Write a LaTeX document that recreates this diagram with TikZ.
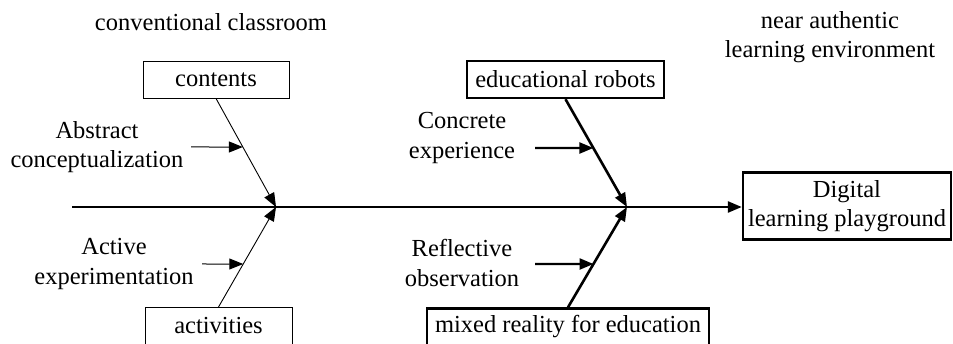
\documentclass[tikz,border=0pt]{standalone}
\usepackage{fontspec}
\setmainfont{Liberation Serif}
\usetikzlibrary{arrows.meta,calc}
\begin{document}
\begin{tikzpicture}[x=1pt,y=-1pt,
  txt/.style={inner sep=0pt,align=center,font=\fontsize{24.5}{29.4}\selectfont},
  thinbox/.style={txt,draw,line width=0.9pt,minimum height=37pt},
  thickbox/.style={txt,draw,line width=2.4pt,minimum height=37pt},
  tip/.style={-{Triangle[length=14pt,width=11pt]}},
  thinline/.style={tip,line width=0.9pt},
  thickline/.style={tip,line width=2.6pt},
  tick/.style={tip,line width=1pt},
  boldtick/.style={tip,line width=2.4pt}]
\useasboundingbox (0,0) rectangle (953,344);
\clip (0,0) rectangle (953,344);

% headings
\node[txt] (hleft) at (211,22) {conventional classroom};
\node[txt] (hright) at (830,37) {near authentic\\learning environment};

% junctions on the spine
\coordinate (j1) at (276,207);
\coordinate (j2) at (627,207);
\coordinate (tail) at (72,207);

% boxes
\node[thinbox,minimum width=146pt] (contents) at (216,79.5) {contents};
\node[thinbox,minimum width=147pt] (activities) at (218.5,326) {activities};
\node[thickbox,minimum width=197pt] (robots) at (565.5,79.5) {educational robots};
\node[thickbox,minimum width=282pt] (mixed) at (568,327) {mixed reality for education};
\node[thickbox,minimum width=208pt,minimum height=67pt] (goal) at (847,206) {Digital\\learning playground};

% spine
\draw[line width=2.6pt] (tail) -- (j1) -- (j2);
\draw[thickline] (j2) -- (j2 -| goal.west);

% bones
\draw[thinline] (contents.south) -- (j1);
\draw[thinline] (activities.north) -- (j1);
\draw[thickline] (robots.south) -- (j2);
\draw[thickline] (mixed.north) -- (j2);

% learning stages
\node[txt] (abstract) at (97,147) {Abstract\\conceptualization};
\node[txt] (active) at (114,264) {Active\\experimentation};
\node[txt] (concrete) at (462,138) {Concrete\\experience};
\node[txt] (reflective) at (462,263) {Reflective\\observation};

% stage arrows, ending on the bones
\coordinate (a1) at (191,147);
\coordinate (a2) at (202,264);
\coordinate (a3) at (535,148);
\coordinate (a4) at (535,264);
\draw[tick] (a1) -- (intersection of a1--{$(a1)+(100,0)$} and contents.south--j1);
\draw[tick] (a2) -- (intersection of a2--{$(a2)+(100,0)$} and activities.north--j1);
\draw[boldtick] (a3) -- (intersection of a3--{$(a3)+(100,0)$} and robots.south--j2);
\draw[boldtick] (a4) -- (intersection of a4--{$(a4)+(100,0)$} and mixed.north--j2);
\end{tikzpicture}
\end{document}
